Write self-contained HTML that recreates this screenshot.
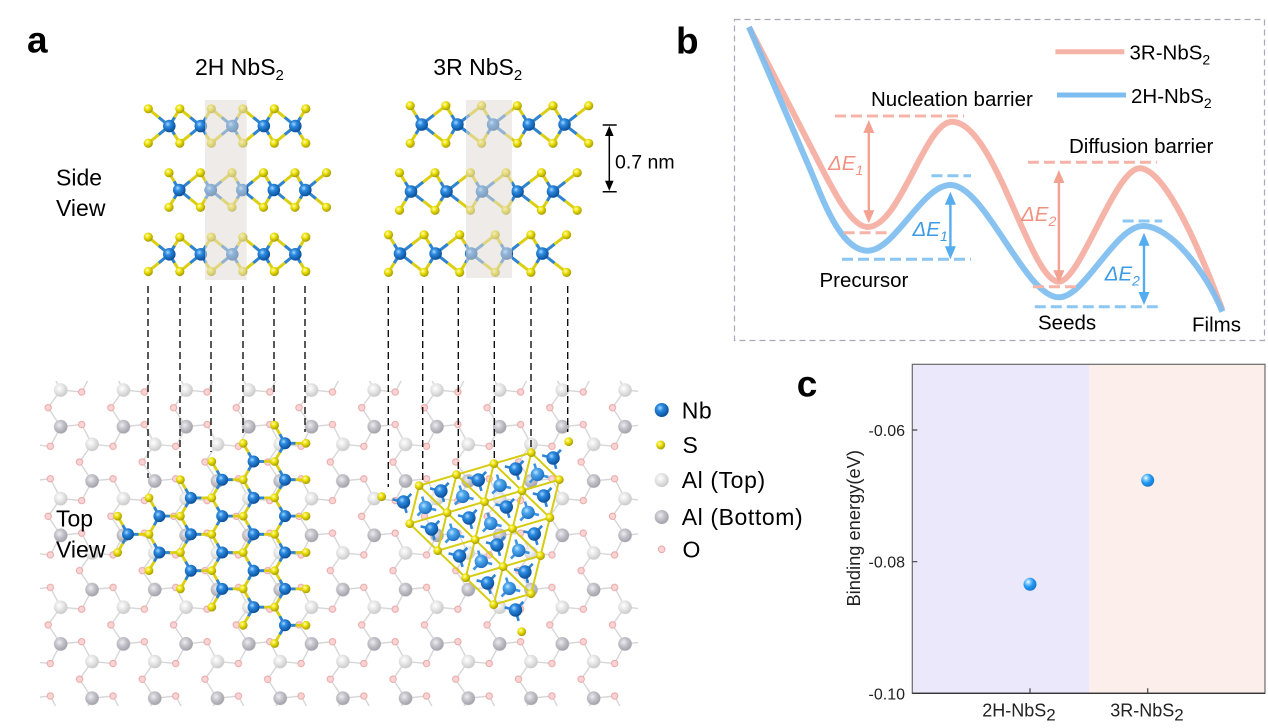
<!DOCTYPE html>
<html><head><meta charset="utf-8"><style>
html,body{margin:0;padding:0;background:#fff;}
svg{display:block;font-family:"Liberation Sans",Arial,sans-serif;}
</style></head><body>
<svg width="1268" height="728" viewBox="0 0 1268 728" xmlns="http://www.w3.org/2000/svg">
<defs>
<radialGradient id="gNb" cx="0.38" cy="0.35" r="0.65"><stop offset="0" stop-color="#a6d8ff"/><stop offset="0.35" stop-color="#2c8ae0"/><stop offset="1" stop-color="#0a4f9a"/></radialGradient>
<radialGradient id="gNb2" cx="0.38" cy="0.35" r="0.65"><stop offset="0" stop-color="#c4e6ff"/><stop offset="0.35" stop-color="#4ea8ee"/><stop offset="1" stop-color="#1e6fbf"/></radialGradient>
<radialGradient id="gS" cx="0.38" cy="0.35" r="0.65"><stop offset="0" stop-color="#fffcc0"/><stop offset="0.4" stop-color="#efe40c"/><stop offset="1" stop-color="#a89c00"/></radialGradient>
<radialGradient id="gAlT" cx="0.4" cy="0.38" r="0.62"><stop offset="0" stop-color="#ffffff"/><stop offset="0.5" stop-color="#e6e6e6"/><stop offset="1" stop-color="#cacaca"/></radialGradient>
<radialGradient id="gAlB" cx="0.4" cy="0.38" r="0.62"><stop offset="0" stop-color="#ededf1"/><stop offset="0.5" stop-color="#c2c1c8"/><stop offset="1" stop-color="#a3a2ab"/></radialGradient>
<radialGradient id="gPt" cx="0.36" cy="0.32" r="0.7"><stop offset="0" stop-color="#ffffff"/><stop offset="0.22" stop-color="#8fd0ff"/><stop offset="0.55" stop-color="#2499f2"/><stop offset="1" stop-color="#1677cf"/></radialGradient>
<circle id="s" r="4.6" fill="url(#gS)"/>
<circle id="st" r="4.4" fill="url(#gS)"/>
<g id="nbA"><path d="M0 0L-21 -17.2M0 0L-21 17.2M0 0L10.5 -17.2M0 0L10.5 17.2" stroke="#dccf12" stroke-width="3" fill="none"/><path d="M0 0L-10.5 -8.6M0 0L-10.5 8.6M0 0L5.25 -8.6M0 0L5.25 8.6" stroke="#2d84d6" stroke-width="3"/><circle r="6.3" fill="url(#gNb)"/></g>
<g id="nbB"><path d="M0 0L-10.3 -17.3M0 0L-10.3 17.3M0 0L21.2 -17.3M0 0L21.2 17.3" stroke="#dccf12" stroke-width="3" fill="none"/><path d="M0 0L-5.15 -8.65M0 0L-5.15 8.65M0 0L10.6 -8.65M0 0L10.6 8.65" stroke="#2d84d6" stroke-width="3"/><circle r="6.3" fill="url(#gNb)"/></g>
<g id="nbR"><path d="M0 0L-11.5 -18.8M0 0L-11.5 18.8M0 0L24.2 -18.8M0 0L24.2 18.8" stroke="#dccf12" stroke-width="3" fill="none"/><path d="M0 0L-5.75 -9.4M0 0L-5.75 9.4M0 0L12.1 -9.4M0 0L12.1 9.4" stroke="#2d84d6" stroke-width="3"/><circle r="6.3" fill="url(#gNb)"/></g>
<g id="nbT"><path d="M0 0L21 0M0 0L-10.4 -18.2M0 0L-10.4 18.2" stroke="#dccf12" stroke-width="2.8" fill="none"/><path d="M0 0L10.5 0M0 0L-5.2 -9.1M0 0L-5.2 9.1" stroke="#2d84d6" stroke-width="2.8"/><circle r="6" fill="url(#gNb)"/></g>
<g id="nbU"><path d="M0 0L-10.9 -2.67M0 0L7.8 -8.17M0 0L3.1 10.83" stroke="#2d84d6" stroke-width="2.6"/><circle r="6.7" fill="url(#gNb)"/></g>
<g id="nbD"><path d="M0 0L-3.1 -10.83M0 0L-7.8 8.17M0 0L10.9 2.67" stroke="#3d96e2" stroke-width="2.6"/><circle r="6.7" fill="url(#gNb2)"/></g>
<pattern id="sub" patternUnits="userSpaceOnUse" x="40.7" y="380" width="62.7" height="108.6">
<g stroke="#d3d3d3" stroke-width="1.3" fill="none">
<path d="M20 10L41 12M20 10L7.5 27.7M7.5 27.7L20 46.7M20 46.7L41 44.5M41 44.5L51.35 64.3M20 46.7L9.65 66.3"/>
<path d="M51.35 64.3L72.35 66.3M-11.35 64.3L9.65 66.3M51.35 64.3L38.85 82M38.85 82L51.35 101M51.35 101L72.35 98.8M-11.35 101L9.65 98.8M9.65 98.8L20 118.6M9.65 -9.8L20 10M51.35 101L41 120.6M51.35 -7.6L41 12"/>
</g>
<g fill="#fad4d4" stroke="#eaa6a6" stroke-width="1">
<circle cx="41" cy="12" r="3.2"/><circle cx="7.5" cy="27.7" r="3.2"/><circle cx="41" cy="44.5" r="3.2"/>
<circle cx="9.65" cy="66.3" r="3.2"/><circle cx="38.85" cy="82" r="3.2"/><circle cx="9.65" cy="98.8" r="3.2"/>
</g>
<circle cx="20" cy="10" r="6.8" fill="url(#gAlT)"/>
<circle cx="51.35" cy="64.3" r="6.8" fill="url(#gAlT)"/>
<circle cx="20" cy="46.7" r="6.8" fill="url(#gAlB)"/>
<circle cx="51.35" cy="101" r="6.8" fill="url(#gAlB)"/>
</pattern>
</defs>
<rect width="1268" height="728" fill="#fff"/>

<!-- ============ Panel a ============ -->
<text x="27" y="52.3" font-size="37" font-weight="bold" fill="#000">a</text>
<text x="195" y="75" font-size="23" fill="#000">2H NbS<tspan font-size="15" dy="5">2</tspan></text>
<text x="433.3" y="75" font-size="23" fill="#000">3R NbS<tspan font-size="15" dy="5">2</tspan></text>
<text x="56" y="185.7" font-size="23" fill="#000">Side</text>
<text x="56" y="216" font-size="23" fill="#000">View</text>

<!-- substrate -->
<rect x="40" y="381" width="598" height="325" fill="url(#sub)"/>

<!-- 2H side view -->
<use href="#nbA" x="169.3" y="126"/><use href="#nbA" x="200.8" y="126"/><use href="#nbA" x="232.3" y="126"/><use href="#nbA" x="263.8" y="126"/><use href="#nbA" x="295.3" y="126"/>
<use href="#nbB" x="179.3" y="190"/><use href="#nbB" x="210.8" y="190"/><use href="#nbB" x="242.3" y="190"/><use href="#nbB" x="273.8" y="190"/><use href="#nbB" x="305.3" y="190"/>
<use href="#nbA" x="169.3" y="254.3"/><use href="#nbA" x="200.8" y="254.3"/><use href="#nbA" x="232.3" y="254.3"/><use href="#nbA" x="263.8" y="254.3"/><use href="#nbA" x="295.3" y="254.3"/>
<use href="#s" x="148.3" y="108.8"/><use href="#s" x="179.8" y="108.8"/><use href="#s" x="211.3" y="108.8"/><use href="#s" x="242.8" y="108.8"/><use href="#s" x="274.3" y="108.8"/><use href="#s" x="305.8" y="108.8"/>
<use href="#s" x="148.3" y="143.2"/><use href="#s" x="179.8" y="143.2"/><use href="#s" x="211.3" y="143.2"/><use href="#s" x="242.8" y="143.2"/><use href="#s" x="274.3" y="143.2"/><use href="#s" x="305.8" y="143.2"/>
<use href="#s" x="169" y="172.7"/><use href="#s" x="200.5" y="172.7"/><use href="#s" x="232" y="172.7"/><use href="#s" x="263.5" y="172.7"/><use href="#s" x="295" y="172.7"/><use href="#s" x="326.5" y="172.7"/>
<use href="#s" x="169" y="207.3"/><use href="#s" x="200.5" y="207.3"/><use href="#s" x="232" y="207.3"/><use href="#s" x="263.5" y="207.3"/><use href="#s" x="295" y="207.3"/><use href="#s" x="326.5" y="207.3"/>
<use href="#s" x="148.3" y="237.1"/><use href="#s" x="179.8" y="237.1"/><use href="#s" x="211.3" y="237.1"/><use href="#s" x="242.8" y="237.1"/><use href="#s" x="274.3" y="237.1"/><use href="#s" x="305.8" y="237.1"/>
<use href="#s" x="148.3" y="271.5"/><use href="#s" x="179.8" y="271.5"/><use href="#s" x="211.3" y="271.5"/><use href="#s" x="242.8" y="271.5"/><use href="#s" x="274.3" y="271.5"/><use href="#s" x="305.8" y="271.5"/>

<!-- 3R side view -->
<use href="#nbR" x="421.7" y="124.5"/><use href="#nbR" x="457.4" y="124.5"/><use href="#nbR" x="493.1" y="124.5"/><use href="#nbR" x="528.8" y="124.5"/><use href="#nbR" x="564.5" y="124.5"/>
<use href="#nbR" x="411" y="191.5"/><use href="#nbR" x="446.5" y="191.5"/><use href="#nbR" x="482" y="191.5"/><use href="#nbR" x="517.5" y="191.5"/><use href="#nbR" x="553" y="191.5"/>
<use href="#nbR" x="400" y="253.6"/><use href="#nbR" x="435.6" y="253.6"/><use href="#nbR" x="471.2" y="253.6"/><use href="#nbR" x="506.8" y="253.6"/><use href="#nbR" x="542.4" y="253.6"/>
<use href="#s" x="410.2" y="105.7"/><use href="#s" x="445.9" y="105.7"/><use href="#s" x="481.6" y="105.7"/><use href="#s" x="517.3" y="105.7"/><use href="#s" x="553" y="105.7"/><use href="#s" x="588.7" y="105.7"/>
<use href="#s" x="410.2" y="143.3"/><use href="#s" x="445.9" y="143.3"/><use href="#s" x="481.6" y="143.3"/><use href="#s" x="517.3" y="143.3"/><use href="#s" x="553" y="143.3"/><use href="#s" x="588.7" y="143.3"/>
<use href="#s" x="399.5" y="172.7"/><use href="#s" x="435" y="172.7"/><use href="#s" x="470.5" y="172.7"/><use href="#s" x="506" y="172.7"/><use href="#s" x="541.5" y="172.7"/><use href="#s" x="577.2" y="172.7"/>
<use href="#s" x="399.5" y="210.3"/><use href="#s" x="435" y="210.3"/><use href="#s" x="470.5" y="210.3"/><use href="#s" x="506" y="210.3"/><use href="#s" x="541.5" y="210.3"/><use href="#s" x="577.2" y="210.3"/>
<use href="#s" x="388.5" y="234.8"/><use href="#s" x="424.1" y="234.8"/><use href="#s" x="459.7" y="234.8"/><use href="#s" x="495.3" y="234.8"/><use href="#s" x="530.9" y="234.8"/><use href="#s" x="566.6" y="234.8"/>
<use href="#s" x="388.5" y="272.4"/><use href="#s" x="424.1" y="272.4"/><use href="#s" x="459.7" y="272.4"/><use href="#s" x="495.3" y="272.4"/><use href="#s" x="530.9" y="272.4"/><use href="#s" x="566.6" y="272.4"/>

<!-- shading columns -->
<rect x="205" y="100" width="41.7" height="180" fill="#e2dbd6" opacity="0.55"/>
<rect x="466" y="100" width="46" height="178" fill="#e2dbd6" opacity="0.55"/>

<!-- scale bar -->
<g stroke="#000" stroke-width="1.5" fill="none">
<path d="M602.7 125H616.7M602.7 191.7H616.7M609.3 130V187"/>
</g>
<polygon points="609.3,125.8 605,136 613.6,136" fill="#000"/>
<polygon points="609.3,190.9 605,180.7 613.6,180.7" fill="#000"/>
<text x="615" y="168.3" font-size="19.5" fill="#000">0.7 nm</text>

<!-- dashed guide lines -->
<g stroke="#111" stroke-width="1.4" stroke-dasharray="7 4" fill="none">
<path d="M148 286V478M180 286V468M211 286V452M243 286V433M274 286V423M305 286V432"/>
<path d="M388.3 286V487M422.7 286V480M458.3 286V470M494.3 286V458M531 286V447M567.7 286V432"/>
</g>

<!-- 2H top view flake -->
<use href="#nbT" x="128" y="534.3"/>
<use href="#nbT" x="159.4" y="516.1"/><use href="#nbT" x="159.4" y="552.5"/>
<use href="#nbT" x="190.8" y="497.9"/><use href="#nbT" x="190.8" y="534.3"/><use href="#nbT" x="190.8" y="570.7"/>
<use href="#nbT" x="222.2" y="479.7"/><use href="#nbT" x="222.2" y="516.1"/><use href="#nbT" x="222.2" y="552.5"/><use href="#nbT" x="222.2" y="588.9"/>
<use href="#nbT" x="253.6" y="461.5"/><use href="#nbT" x="253.6" y="497.9"/><use href="#nbT" x="253.6" y="534.3"/><use href="#nbT" x="253.6" y="570.7"/><use href="#nbT" x="253.6" y="607.1"/>
<use href="#nbT" x="285" y="443.3"/><use href="#nbT" x="285" y="479.7"/><use href="#nbT" x="285" y="516.1"/><use href="#nbT" x="285" y="552.5"/><use href="#nbT" x="285" y="588.9"/><use href="#nbT" x="285" y="625.3"/>
<use href="#st" x="117.6" y="516.1"/><use href="#st" x="117.6" y="552.5"/>
<use href="#st" x="149" y="497.9"/><use href="#st" x="149" y="534.3"/><use href="#st" x="149" y="570.7"/>
<use href="#st" x="180.4" y="479.7"/><use href="#st" x="180.4" y="516.1"/><use href="#st" x="180.4" y="552.5"/><use href="#st" x="180.4" y="588.9"/>
<use href="#st" x="211.8" y="461.5"/><use href="#st" x="211.8" y="497.9"/><use href="#st" x="211.8" y="534.3"/><use href="#st" x="211.8" y="570.7"/><use href="#st" x="211.8" y="607.1"/>
<use href="#st" x="243.2" y="443.3"/><use href="#st" x="243.2" y="479.7"/><use href="#st" x="243.2" y="516.1"/><use href="#st" x="243.2" y="552.5"/><use href="#st" x="243.2" y="588.9"/><use href="#st" x="243.2" y="625.3"/>
<use href="#st" x="274.6" y="425.1"/><use href="#st" x="274.6" y="461.5"/><use href="#st" x="274.6" y="497.9"/><use href="#st" x="274.6" y="534.3"/><use href="#st" x="274.6" y="570.7"/><use href="#st" x="274.6" y="607.1"/><use href="#st" x="274.6" y="643.5"/>
<use href="#st" x="306" y="443.3"/><use href="#st" x="306" y="479.7"/><use href="#st" x="306" y="516.1"/><use href="#st" x="306" y="552.5"/><use href="#st" x="306" y="588.9"/><use href="#st" x="306" y="625.3"/>

<!-- 3R top view flake -->
<path d="M419.1 485.7L531.3 452.7M409.7 523.7L559.3 479.7M437.7 550.7L549.9 517.7M465.7 577.7L540.5 555.7M493.7 604.7L531.1 593.7M409.7 523.7L493.7 604.7M419.1 485.7L531.1 593.7M456.5 474.7L540.5 555.7M493.9 463.7L549.9 517.7M531.3 452.7L559.3 479.7M419.1 485.7L409.7 523.7M456.5 474.7L437.7 550.7M493.9 463.7L465.7 577.7M531.3 452.7L493.7 604.7M559.3 479.7L531.1 593.7" stroke="#d6cc10" stroke-width="2" fill="none"/>
<use href="#nbD" x="425.3" y="507.4"/><use href="#nbD" x="462.7" y="496.4"/><use href="#nbD" x="500.1" y="485.4"/><use href="#nbD" x="537.5" y="474.4"/>
<use href="#nbD" x="453.3" y="534.4"/><use href="#nbD" x="490.7" y="523.4"/><use href="#nbD" x="528.1" y="512.4"/>
<use href="#nbD" x="481.3" y="561.4"/><use href="#nbD" x="518.7" y="550.4"/>
<use href="#nbD" x="509.3" y="588.4"/>
<use href="#nbU" x="403.5" y="502"/><use href="#nbU" x="440.9" y="491"/><use href="#nbU" x="478.3" y="480"/><use href="#nbU" x="515.7" y="469"/><use href="#nbU" x="553.1" y="458"/>
<use href="#nbU" x="431.5" y="529"/><use href="#nbU" x="468.9" y="518"/><use href="#nbU" x="506.3" y="507"/><use href="#nbU" x="543.7" y="496"/>
<use href="#nbU" x="459.5" y="556"/><use href="#nbU" x="496.9" y="545"/><use href="#nbU" x="534.3" y="534"/>
<use href="#nbU" x="487.5" y="583"/><use href="#nbU" x="524.9" y="572"/>
<use href="#nbU" x="515.5" y="610"/>
<use href="#st" x="381.7" y="496.7"/><use href="#st" x="419.1" y="485.7"/><use href="#st" x="456.5" y="474.7"/><use href="#st" x="493.9" y="463.7"/><use href="#st" x="531.3" y="452.7"/><use href="#st" x="568.7" y="441.7"/>
<use href="#st" x="409.7" y="523.7"/><use href="#st" x="447.1" y="512.7"/><use href="#st" x="484.5" y="501.7"/><use href="#st" x="521.9" y="490.7"/><use href="#st" x="559.3" y="479.7"/>
<use href="#st" x="437.7" y="550.7"/><use href="#st" x="475.1" y="539.7"/><use href="#st" x="512.5" y="528.7"/><use href="#st" x="549.9" y="517.7"/>
<use href="#st" x="465.7" y="577.7"/><use href="#st" x="503.1" y="566.7"/><use href="#st" x="540.5" y="555.7"/>
<use href="#st" x="493.7" y="604.7"/><use href="#st" x="531.1" y="593.7"/>
<use href="#st" x="521.7" y="631.7"/>

<text x="56" y="526.7" font-size="23" fill="#000">Top</text>
<text x="56" y="557.3" font-size="23" fill="#000">View</text>

<!-- legend -->
<circle cx="661.7" cy="410" r="7" fill="url(#gNb)"/>
<circle cx="660.7" cy="445" r="4.5" fill="url(#gS)"/>
<circle cx="661.7" cy="480" r="7" fill="url(#gAlT)"/>
<circle cx="661.7" cy="517" r="7" fill="url(#gAlB)"/>
<circle cx="661.7" cy="549.3" r="3.3" fill="#fad4d4" stroke="#eaa6a6" stroke-width="1"/>
<g font-size="23" fill="#000" letter-spacing="0.6">
<text x="681.7" y="418.3">Nb</text>
<text x="682.5" y="453">S</text>
<text x="681.7" y="488">Al (Top)</text>
<text x="681.7" y="525">Al (Bottom)</text>
<text x="682.5" y="557.5">O</text>
</g>

<!-- ============ Panel b ============ -->
<text x="676" y="53.3" font-size="37" font-weight="bold" fill="#000">b</text>
<rect x="734.5" y="19.5" width="530" height="321" fill="none" stroke="#a9a7b8" stroke-width="1.2" stroke-dasharray="6 4"/>

<path d="M749 27L815 155C830 184 850 227 867.7 227C900 227 925 121.7 952 121.7C995 121.7 1030 281.7 1058.9 281.7C1080 281.7 1115 168.3 1139.8 168.3C1165 168.3 1200 250 1222.4 310" fill="none" stroke="#f6b4a9" stroke-width="6"/>
<path d="M749 27L810 169C822 197 840 250.7 867.7 250.7C895 250.7 922 185 950.4 185C985 185 1025 297.3 1058.9 297.3C1085 297.3 1115 226 1143.2 226C1170 226 1205 270 1222.4 311.7" fill="none" stroke="#7dbdf0" stroke-width="6" opacity="0.92"/>

<g stroke-width="3" stroke-dasharray="11 5" fill="none">
<path d="M835 116H964M843.6 232.7H891.8M1027.9 162.3H1157M1033 286.7H1081" stroke="#f6b4a9"/>
<path d="M931.4 175.7H971M842 259.3H971M1122.6 221H1162.2M1034.8 306.7H1162.2" stroke="#8cc7f4"/>
</g>

<!-- arrows -->
<g stroke-width="2.4">
<path d="M868.8 130V213" stroke="#f4a191"/>
<path d="M950.4 201V250" stroke="#55acef"/>
<path d="M1058.9 180V273" stroke="#f4a191"/>
<path d="M1144 242V296" stroke="#55acef"/>
</g>
<g fill="#f4a191">
<polygon points="868.8,120 863.3,133 874.3,133"/><polygon points="868.8,223.3 863.3,210.3 874.3,210.3"/>
<polygon points="1058.9,170 1053.4,183 1064.4,183"/><polygon points="1058.9,283.3 1053.4,270.3 1064.4,270.3"/>
</g>
<g fill="#55acef">
<polygon points="950.4,191.7 944.9,204.7 955.9,204.7"/><polygon points="950.4,259.3 944.9,246.3 955.9,246.3"/>
<polygon points="1144,232.7 1138.5,245.7 1149.5,245.7"/><polygon points="1144,305 1138.5,292 1149.5,292"/>
</g>

<g font-size="20.5" font-style="italic">
<text x="828" y="170" fill="#f2917f">ΔE<tspan font-size="14" dy="5">1</tspan></text>
<text x="912.5" y="236" fill="#3b9be6">ΔE<tspan font-size="14" dy="5">1</tspan></text>
<text x="1021" y="221" fill="#f2917f">ΔE<tspan font-size="14" dy="5">2</tspan></text>
<text x="1104.7" y="280.5" fill="#3b9be6">ΔE<tspan font-size="14" dy="5">2</tspan></text>
</g>

<line x1="1055.4" y1="51.7" x2="1124.3" y2="51.7" stroke="#f6b4a9" stroke-width="5"/>
<line x1="1057" y1="95" x2="1126" y2="95" stroke="#7dbdf0" stroke-width="5"/>
<g font-size="20.5" fill="#000">
<text x="1129.5" y="59.3">3R-NbS<tspan font-size="14" dy="5">2</tspan></text>
<text x="1131" y="103">2H-NbS<tspan font-size="14" dy="5">2</tspan></text>
<text x="871" y="106">Nucleation barrier</text>
<text x="1069" y="153">Diffusion barrier</text>
<text x="819.5" y="287">Precursor</text>
<text x="1038" y="329.3">Seeds</text>
<text x="1192" y="331.7">Films</text>
</g>

<!-- ============ Panel c ============ -->
<text x="796.7" y="396.7" font-size="37" font-weight="bold" fill="#000">c</text>
<rect x="912.3" y="364.3" width="176.7" height="329" fill="#ebe8fc"/>
<rect x="1089" y="364.3" width="176" height="329" fill="#fcefeb"/>
<rect x="912.3" y="364.3" width="352.7" height="329" fill="none" stroke="#6a6a6a" stroke-width="1.2"/>
<line x1="912.3" y1="693.3" x2="1265" y2="693.3" stroke="#333" stroke-width="1.4"/>
<path d="M912.3 430h5M912.3 561.7h5M1030 693.3v-5M1147.7 693.3v-5" stroke="#444" stroke-width="1.2"/>
<g font-size="16" fill="#222" text-anchor="end">
<text x="905" y="436">-0.06</text>
<text x="905" y="567.7">-0.08</text>
<text x="905" y="699.3">-0.10</text>
</g>
<g font-size="18" fill="#222" text-anchor="middle">
<text x="1019" y="716.7">2H-NbS<tspan font-size="17" dy="4">2</tspan></text>
<text x="1147" y="716.7">3R-NbS<tspan font-size="17" dy="4">2</tspan></text>
</g>
<text transform="translate(860,528.3) rotate(-90)" text-anchor="middle" font-size="18.3" fill="#222">Binding energy(eV)</text>
<circle cx="1030" cy="584.3" r="6.5" fill="url(#gPt)"/>
<circle cx="1147.7" cy="480.3" r="6.5" fill="url(#gPt)"/>
</svg>
</body></html>
